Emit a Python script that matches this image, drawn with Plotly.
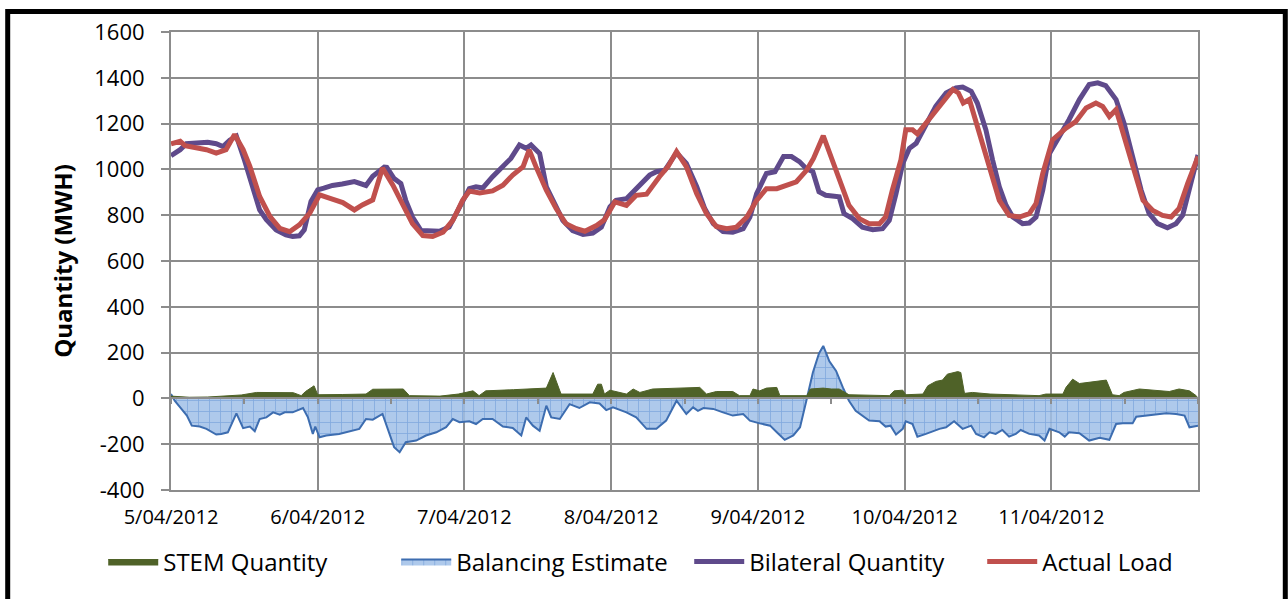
import plotly.graph_objects as go
import pandas as pd

# ---------------- data ----------------
day_labels = ["5/04/2012", "6/04/2012", "7/04/2012", "8/04/2012",
              "9/04/2012", "10/04/2012", "11/04/2012"]
start_date = "2012-04-05"

# Bilateral Quantity (MWH) — hours since 5/04/2012 00:00
bilateral_hours = [0, 1.5, 2.5, 4.7, 6, 7.4, 8.5, 9.6, 10.7, 12, 13.4, 14.5, 15.6, 17.2, 18.8, 19.9, 21, 21.8,
                   22.9, 24, 25, 26.4, 28, 30, 31.9, 33, 34.9, 35.3, 36.5, 37.6, 38.4, 39.5, 40.9, 42.3, 43.9,
                   45.5, 47.2, 48.8, 49.9, 51, 52.6, 54.3, 55.6, 57, 58.1, 58.9, 60.3, 61.4, 62.5, 64.1, 65.7,
                   67.4, 69, 70.4, 71.8, 72.8, 74.5, 75.6, 77.2, 78.3, 79.4, 80.8, 82.7, 84.3, 86, 87.3, 88.7,
                   90.3, 91.9, 93.6, 94.7, 95.8, 97.4, 98.8, 100.2, 101.5, 102.8, 103.9, 105, 106, 107.1, 109.3,
                   110.1, 111.5, 113.1, 114.8, 116.4, 117.5, 118.6, 119.7, 120.8, 121.9, 123.5, 125.1, 126.8,
                   128.4, 129.5, 130.9, 131.9, 133.3, 134.4, 135.5, 136.6, 137.7, 139.3, 140.4, 141.5, 142.6,
                   143.7, 145.3, 146.9, 148.6, 150.2, 151.6, 152.9, 154.6, 155.9, 157.3, 158.7, 160, 161.4, 163,
                   164.4, 165.5, 166.6, 168]
bilateral_mwh = [1060, 1086, 1112, 1118, 1118, 1112, 1100, 1127, 1145, 1042, 925, 823, 780, 736, 714, 707, 710, 736,
                 860, 911, 918, 930, 936, 947, 930, 970, 1010, 1009, 960, 938, 865, 792, 733, 730, 730,
                 748, 829, 916, 924, 919, 968, 1012, 1048, 1107, 1092, 1107, 1070, 924, 865, 777, 733,
                 716, 722, 748, 836, 865, 872, 902, 938, 975, 990, 997, 1073, 1026, 924, 829, 763,
                 729, 726, 741, 792, 894, 982, 990, 1056, 1056, 1034, 1004, 990, 902, 887, 880,
                 807, 785, 748, 737, 741, 777, 894, 1026, 1092, 1114, 1195, 1275, 1334,
                 1356, 1360, 1341, 1290, 1173, 1041, 924, 843, 792, 763, 766, 792, 909,
                 1070, 1143, 1217, 1305, 1371, 1378, 1366, 1305, 1202, 1056, 909, 807, 763, 745,
                 763, 800, 924, 1063]

# Actual Load (MWH)
load_hours = [0, 1.5, 2.3, 4.2, 5.8, 7.4, 9, 10.4, 11.8, 12.9, 14.5, 16.2, 17.8, 19.4, 21, 22.7, 24.3, 25.9,
              28.1, 30, 31.3, 33, 34.6, 36.3, 37.9, 39.5, 41.2, 42.8, 44.5, 46.1, 47.7, 48.8, 50.5, 52.6,
              54.3, 55.9, 57.6, 58.6, 59.7, 61.4, 63, 64.6, 66.3, 67.7, 69.6, 70.9, 72.6, 74.5, 76.1, 77.8,
              79.9, 81.3, 82.7, 84.3, 86, 87.6, 89.2, 90.9, 92.5, 94.2, 95.8, 97.4, 99.1, 100.7, 102.3, 104,
              105.1, 106.7, 108, 109.3, 110.9, 112.6, 114.2, 115.9, 116.9, 118, 119.4, 120.2, 121.3, 122.1,
              123.5, 125.1, 126.8, 127.9, 128.8, 129.6, 130.6, 132.2, 133.9, 135.5, 137.1, 138.8, 140.4,
              141.5, 142.6, 144.2, 146.4, 148, 149.7, 151.3, 152.4, 153.5, 154.6, 155.9, 157.3, 159, 160.6,
              162.2, 163.6, 164.9, 166.3, 168]
load_mwh = [1112, 1123, 1104, 1093, 1086, 1071, 1086, 1152, 1086, 1013, 882, 794, 743, 728, 758, 809, 889, 875,
            855, 823, 845, 867, 1006, 931, 851, 763, 711, 707, 726, 777, 865, 905, 897, 906,
            931, 975, 1012, 1085, 1012, 909, 829, 763, 741, 730, 755, 780, 858, 843, 887, 892,
            968, 1012, 1078, 1012, 894, 807, 751, 741, 748, 792, 865, 916, 916, 931, 946, 997,
            1048, 1147, 1056, 968, 843, 785, 763, 763, 792, 909, 1041, 1173, 1173, 1155,
            1202, 1261, 1319, 1349, 1334, 1290, 1305, 1158, 1012, 865, 799, 792, 807,
            851, 982, 1129, 1180, 1209, 1268, 1290, 1275, 1231, 1261, 1143, 1012, 865, 821,
            799, 792, 829, 938, 1056]

# STEM Quantity (MWH)
stem_hours = [0, 3, 6, 9, 11.5, 14, 17, 20, 21.3, 22, 23.4, 24, 28, 31.9, 33, 38, 39, 44, 47, 49.4, 50.4,
              51.5, 56, 61.4, 62.5, 63.8, 69, 69.8, 70.4, 70.9, 71.8, 74.5, 75.6, 76.7, 78.8, 86.5, 87.6,
              89.2, 91.9, 93, 94.7, 95.2, 96.3, 97.4, 99.1, 99.6, 104, 104.6, 106.7, 108, 109.3, 110.9,
              117.5, 118.3, 119.7, 120.2, 123, 123.8, 125.1, 126.2, 127, 128.7, 129.2, 129.8, 131.1, 134,
              142, 143.1, 145.9, 146.4, 147.5, 148.6, 153, 154, 155.1, 155.9, 158.4, 161.7, 163.3, 164.9,
              166.6, 167.7, 168]
stem_mwh = [10, 5, 6, 10, 15, 26, 24, 25, 12, 30, 55, 16, 17, 19, 40, 41, 12, 10, 19, 33, 12,
            33, 38, 45, 113, 19, 19, 62, 62, 19, 36, 19, 41, 26, 41, 48, 19,
            30, 30, 12, 12, 41, 33, 45, 48, 12, 12, 41, 45, 41, 41, 16,
            12, 33, 36, 16, 19, 55, 74, 80, 106, 117, 113, 22, 26, 19,
            12, 19, 19, 48, 84, 65, 80, 16, 12, 26, 41, 33, 30, 41,
            33, 12, 0]

# Balancing Estimate (MWH)
bal_hours = [0, 0.6, 1.5, 2.6, 3.4, 4.7, 5.8, 7.4, 8.2, 9.3, 10.7, 11.8, 12.9, 13.7, 14.5, 15.6, 16.7, 17.8,
             18.6, 19.9, 21.6, 22.4, 23.2, 23.6, 24.3, 25.4, 27.5, 29.2, 30.8, 31.9, 33, 34.6, 35.7, 36.5,
             37.4, 38.4, 40.1, 41.7, 43.4, 45, 46.1, 47.2, 48.8, 49.9, 51, 52.6, 54.3, 55.9, 57.3, 58.1,
             59.2, 60.3, 61.4, 62.2, 63.6, 65.2, 66.8, 68.5, 70.1, 71.2, 72.3, 74.5, 76.1, 77.8, 79.4, 81,
             82.7, 84.3, 85.4, 86.2, 87.1, 88.7, 90.3, 91.9, 93.6, 94.7, 96.3, 98, 99.1, 100.4, 101.8,
             102.9, 104, 105, 106, 106.7, 107.7, 108.8, 109.9, 110.9, 112, 114.2, 115.9, 116.9, 117.7,
             118.6, 119.7, 120.2, 121.3, 122.1, 123.5, 125.7, 126.8, 128.1, 129.5, 130.9, 131.7, 133,
             133.9, 134.9, 136, 137.1, 138.2, 139, 140.4, 142, 142.9, 143.7, 145.3, 146.2, 146.9, 148.6,
             150.2, 151.9, 153.5, 154.6, 155.7, 157.3, 157.9, 159.5, 161.1, 162.8, 164.4, 165.8, 166.6,
             167.7, 168]
bal_mwh = [19, -10, -39, -75, -119, -123, -133, -158, -155, -148, -65, -130, -123, -143, -90, -83, -61, -71,
           -61, -61, -42, -83, -155, -123, -170, -162, -155, -143, -133, -90, -93, -68, -155, -213,
           -235, -191, -184, -162, -148, -126, -90, -104, -100, -112, -90, -90, -123, -129, -162, -83,
           -119, -141, -32, -83, -90, -25, -42, -17, -22, -51, -39, -61, -83, -133, -133, -97,
           -10, -68, -39, -54, -42, -46, -61, -75, -68, -97, -109, -119, -148, -181, -162,
           -126, -3, 113, 196, 229, 162, 120, 48, -10, -54, -97, -100, -123, -119,
           -158, -133, -100, -112, -167, -155, -133, -126, -100, -133, -119, -155, -170,
           -148, -155, -138, -167, -155, -138, -155, -162, -184, -133, -148, -167, -148, -152,
           -184, -172, -181, -112, -109, -109, -80, -75, -68, -65, -68, -75, -126,
           -119, -119]

y_ticks = [-400, -200, 0, 200, 400, 600, 800, 1000, 1200, 1400, 1600]
y_tick_labels = ["-400", "-200", "0", "200", "400", "600", "800", "1000", "1200", "1400", "1600"]

# ---------------- helpers ----------------
t0 = pd.Timestamp(start_date)


def to_time(hours):
    return [t0 + pd.Timedelta(hours=h) for h in hours]


day_ticks = [t0 + pd.Timedelta(days=i) for i in range(len(day_labels))]

FONT = "Open Sans"
GRID = "#8c8c8c"

fig = go.Figure()

fig.add_trace(go.Scatter(
    x=to_time(stem_hours), y=stem_mwh, name="STEM Quantity", mode="lines",
    fill="tozeroy", fillcolor="#4f6228", line=dict(color="#4f6228", width=1),
    xaxis="x2"))

fig.add_trace(go.Scatter(
    x=to_time(bal_hours), y=bal_mwh, name="Balancing Estimate", mode="lines",
    fill="tozeroy", fillcolor="rgba(160,192,232,0.85)",
    fillpattern=dict(shape="+", bgcolor="rgba(160,192,232,0.85)", fgcolor="#5288cf",
                     size=11, solidity=0.14),
    line=dict(color="#3d6db0", width=2)))

fig.add_trace(go.Scatter(
    x=to_time(bilateral_hours), y=bilateral_mwh, name="Bilateral Quantity", mode="lines",
    line=dict(color="#5f4a8b", width=5)))

fig.add_trace(go.Scatter(
    x=to_time(load_hours), y=load_mwh, name="Actual Load", mode="lines",
    line=dict(color="#c0504d", width=5)))

fig.update_layout(
    width=1288, height=599, autosize=False,
    margin=dict(l=171, r=90, t=32, b=109),
    paper_bgcolor="white", plot_bgcolor="white",
    font=dict(family=FONT, color="black"),
    showlegend=True,
    legend=dict(orientation="h", x=-0.066, y=-0.157, xanchor="left", yanchor="middle",
                itemwidth=50, entrywidth=228, entrywidthmode="pixels",
                font=dict(size=24, family=FONT, color="black"),
                bgcolor="rgba(0,0,0,0)"),
    xaxis=dict(
        type="date", range=[t0, t0 + pd.Timedelta(days=7)],
        tickvals=day_ticks, ticktext=day_labels,
        showgrid=True, gridcolor=GRID, gridwidth=2,
        showline=True, mirror=True, linecolor=GRID, linewidth=2,
        ticks="", ticklabelstandoff=8,
        tickfont=dict(size=20, family=FONT, color="black"),
        zeroline=False),
    xaxis2=dict(
        type="date", overlaying="x", matches="x", anchor="free", position=0.2,
        showline=True, linecolor=GRID, linewidth=2,
        ticks="outside", ticklen=5, tickwidth=2, tickcolor=GRID,
        dtick=12 * 3600 * 1000, tick0=t0 + pd.Timedelta(hours=12),
        showticklabels=False, showgrid=False, zeroline=False),
    yaxis=dict(
        range=[-400, 1600], tickvals=y_ticks, ticktext=y_tick_labels,
        showgrid=True, gridcolor=GRID, gridwidth=2,
        showline=True, mirror=True, linecolor=GRID, linewidth=2,
        ticks="outside", ticklen=8, tickwidth=2, tickcolor=GRID,
        ticklabelstandoff=12,
        tickfont=dict(size=22, family=FONT, color="black"),
        zeroline=False,
        title=dict(text="<b>Quantity (MWH)</b>", font=dict(size=24, family=FONT, color="black"),
                   standoff=15)),
)

# outer chart frame
fig.add_shape(type="rect", xref="paper", yref="paper",
              x0=-0.159, x1=1.085, y0=-0.3, y1=1.045,
              line=dict(color="black", width=5), fillcolor="rgba(0,0,0,0)", layer="above")

fig.write_html("out.html", config={"displayModeBar": False},
               post_script="document.body.style.margin='0';document.body.style.overflow='hidden';")
